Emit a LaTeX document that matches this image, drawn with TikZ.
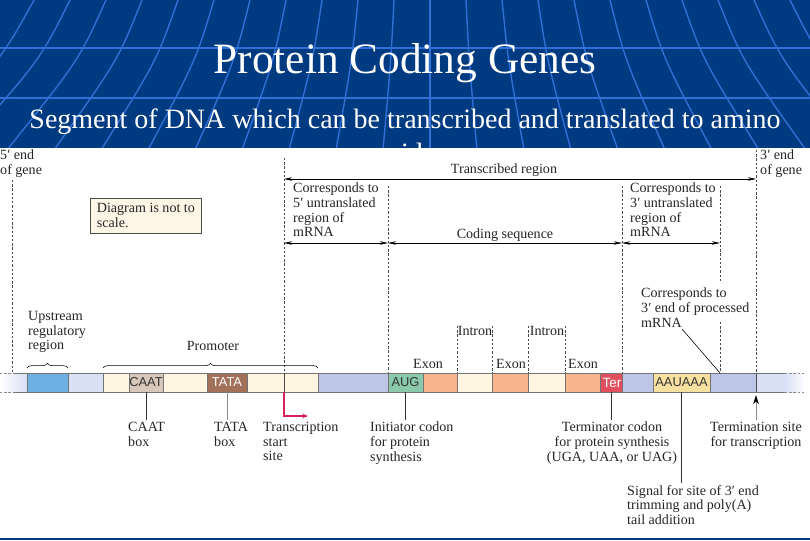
\documentclass[tikz,border=0pt]{standalone}
\usepackage{fontspec}
\setmainfont{Liberation Serif}
\newfontfamily\barfont{Liberation Sans}
\usetikzlibrary{arrows.meta,decorations.pathreplacing}

\definecolor{slideblue}{HTML}{003A80}
\definecolor{gridblue}{HTML}{2F6FD6}
\definecolor{upblue}{HTML}{6DB1E3}
\definecolor{palelav}{HTML}{D9E0F4}
\definecolor{cream}{HTML}{FFF5E0}
\definecolor{caatbox}{HTML}{D8C8BC}
\definecolor{tatabox}{HTML}{A3705A}
\definecolor{utrlav}{HTML}{BEC6E8}
\definecolor{augreen}{HTML}{8AC9A9}
\definecolor{exon}{HTML}{F8B58E}
\definecolor{terred}{HTML}{E2505F}
\definecolor{polyabox}{HTML}{F8E1A0}
\definecolor{notefill}{HTML}{FDF5E6}
\definecolor{tssred}{HTML}{D8235A}

\newcommand{\txtsize}{\fontsize{12}{12.5}\selectfont}

\begin{document}
\begin{tikzpicture}[x=0.3mm, y=-0.3mm,
    every node/.style={inner sep=0pt, font=\txtsize, text=black!85},
    note/.style={align=left, anchor=north west},
    mid/.style={align=center, anchor=north},
    guide/.style={draw=black!70, dash pattern=on 2pt off 1.6pt, line width=0.5pt},
    span/.style={{Stealth[length=7pt,width=3pt]}-{Stealth[length=7pt,width=3pt]}, line width=0.5pt},
    seg/.style={draw=black!55, line width=0.5pt},
    box/.style={draw=black!55, line width=0.5pt, minimum height=5.7mm, inner sep=0pt, font=\barfont\fontsize{11}{11}\selectfont},
    stalk/.style={draw=black!80, line width=0.6pt, shorten >=2pt},
    gridline/.style={draw=gridblue, line width=1.2pt}]
\useasboundingbox (0,0) rectangle (810,540);

% slide background
\fill[slideblue] (0,0) rectangle (810,540);
\foreach \k in {-13,...,12}
    \draw[gridline] ({430+\k*36},0) .. controls ({430+\k*39},60) .. ({430+\k*47},150);
\foreach \y in {48,98}
    \draw[gridline] (0,\y) -- (810,\y);
\node[text=white, anchor=base, font=\fontsize{37}{40}\selectfont] (title) at (405,73) {Protein Coding Genes};
\node[text=white, anchor=base, font=\fontsize{23.9}{28}\selectfont] (sub) at (405,128) {Segment of DNA which can be transcribed and translated to amino};
\node[text=white, anchor=base, font=\fontsize{23.9}{28}\selectfont] (sub2) at (405,162) {acids};

% white panel
\fill[white] (0,148) rectangle (810,538);

% guide lines
\foreach \n/\x/\t in {g5/12/180, tss/284/158, aug/388/186, stop/622/186, tail/756/150} {
    \coordinate (\n-top) at (\x,\t);
    \coordinate (\n-bot) at (\x,373);
    \draw[guide] (\n-top) -- (\n-bot);
}
\coordinate (utr3-top) at (720,186);
\coordinate (utr3-mid) at (720,282);
\coordinate (utr3-low) at (720,322);
\coordinate (utr3-bot) at (720,373);
\draw[guide] (utr3-top) -- (utr3-mid);
\draw[guide] (utr3-low) -- (utr3-bot);
\foreach \x in {457,492,528,565}
    \draw[guide] (\x,326) -- (\x,373);

% spans
\coordinate (rowA) at (0,179);
\coordinate (rowB) at (0,243);
\draw[span] (tss-bot |- rowA) -- (tail-bot |- rowA);
\draw[span] (tss-bot |- rowB) -- (aug-bot |- rowB);
\draw[span] (aug-bot |- rowB) -- (stop-bot |- rowB);
\draw[span] (stop-bot |- rowB) -- (utr3-bot |- rowB);

% top labels
\node[note] (end5) at (0,150) {5′ end\\of gene};
\node[note] (end3) at (760,150) {3′ end\\of gene};
\node (txreg) at (504,170) {Transcribed region};
\node[note, draw=black!70, fill=notefill, inner xsep=2mm, inner ysep=1.6mm] (scale) at (90,198) {Diagram is not to\\scale.};
\node[note] (utr5lbl) at (293,183) {Corresponds to\\5′ untranslated\\region of\\mRNA};
\node (codlbl) at (505,235) {Coding sequence};
\node[note] (utr3lbl) at (630,183) {Corresponds to\\3′ untranslated\\region of\\mRNA};
\node[note] (proclbl) at (641,288) {Corresponds to\\3′ end of processed\\mRNA};
\coordinate (procfoot) at (682,329);
\draw[line width=0.5pt] (procfoot) -- (utr3-bot);

% region labels
\node[note] (upreg) at (28,311) {Upstream\\regulatory\\region};
\node (prom) at (213,346) {Promoter};
\node (intron1) at (475,331) {Intron};
\node (intron2) at (547,331) {Intron};
\node (exon1) at (428,364) {Exon};
\node (exon2) at (511,364) {Exon};
\node (exon3) at (583,364) {Exon};
\draw[decorate, decoration={brace, amplitude=4pt}, line width=0.5pt] (27,368) -- (68,368);
\draw[decorate, decoration={brace, amplitude=4pt}, line width=0.5pt] (103,368) -- (318,368);

% gene bar
\shade[left color=white, right color=palelav] (0,373) rectangle (27,392);
\shade[left color=palelav, right color=white] (785,373) rectangle (805,392);
\fill[palelav] (756,373) rectangle (785,392);
\draw[guide, draw=black!45] (0,373) -- (14,373) (0,392) -- (14,392);
\draw[seg] (14,373) -- (27,373) (14,392) -- (27,392);
\draw[seg] (756,373) -- (785,373) (756,392) -- (785,392);
\draw[guide, draw=black!45] (785,373) -- (805,373) (785,392) -- (805,392);
\foreach \a/\b/\c in {27/68/upblue, 68/103/palelav, 103/318/cream, 318/388/utrlav, 423/457/exon,
        457/492/cream, 492/528/exon, 528/565/cream, 565/600/exon, 622/653/utrlav, 710/756/utrlav}
    \draw[seg, fill=\c] (\a,373) rectangle (\b,392);
\draw[seg, draw=black!70] (tss-bot) -- (284,392);
\draw[seg, draw=black!70] (tail-bot) -- (756,392);
\foreach \n/\x/\w/\c/\t/\lab in {caat/146/34/caatbox/black!80/CAAT, tata/227/40/tatabox/white/TATA,
        aug/405.5/35/augreen/black!80/AUG, polya/681.5/57/polyabox/black!80/AAUAAA}
    \node[box, fill=\c, text=\t, minimum width=\w*0.3mm] (\n) at (\x,382.5) {\lab};
\node[box, fill=terred, minimum width=22*0.3mm] (ter) at (611,382.5) {};
\begin{scope}
    \clip (600,373) rectangle (622,392);
    \node[anchor=west, text=white, font=\barfont\fontsize{11.5}{11.5}\selectfont] (tertext) at (602.5,383) {Ter};
\end{scope}

% bottom labels
\node[note] (caatlbl) at (128,422) {CAAT\\box};
\node[note] (tatalbl) at (214,422) {TATA\\box};
\node[note] (tsslbl) at (263,422) {Transcription\\start\\site};
\node[note] (initlbl) at (370,422) {Initiator codon\\for protein\\synthesis};
\node[mid] (stoplbl) at (612,422) {Terminator codon\\for protein synthesis\\(UGA, UAA, or UAG)};
\node[mid] (termlbl) at (756,422) {Termination site\\for transcription};
\node[note] (signallbl) at (627,485) {Signal for site of 3′ end\\trimming and poly(A)\\tail addition};

\draw[stalk] (caat.south) -- (caat.south |- caatlbl.north);
\draw[stalk, draw=black!45] (tata.south) -- (tata.south |- tatalbl.north);
\draw[stalk] (aug.south) -- (aug.south |- initlbl.north);
\draw[stalk] (ter.south) -- (ter.south |- stoplbl.north);
\draw[stalk] (polya.south) -- (polya.south |- signallbl.north);
\coordinate (tsstip) at (308,416);
\draw[tssred, line width=1pt, -{Stealth[length=5pt,width=4pt]}] (284,392) |- (tsstip);
\coordinate (termtip) at (756,395);
\draw[draw=black!45, line width=0.8pt, shorten <=2pt, -{Stealth[length=8pt,width=5pt,black]}] (termlbl.north) -- (termtip);

% bottom strip
\fill[slideblue] (0,538) rectangle (810,540);
\end{tikzpicture}
\end{document}
